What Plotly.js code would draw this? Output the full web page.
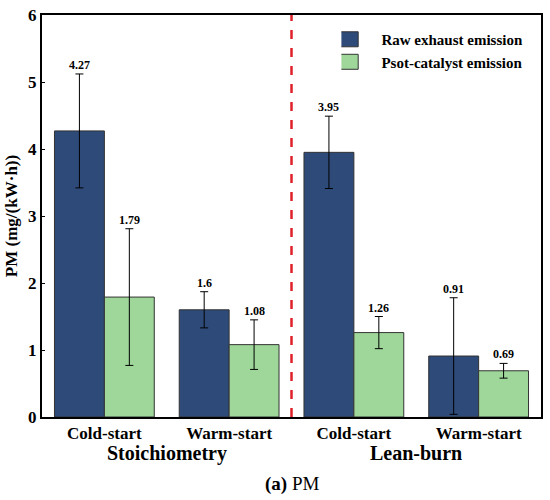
<!DOCTYPE html>
<html>
<head>
<meta charset="utf-8">
<script src="https://cdn.plot.ly/plotly-3.0.1.min.js"></script>
<style>
html, body { margin: 0; padding: 0; background: #fff; }
#chart text, #chart tspan { font-family: "Liberation Serif", "Times New Roman", serif !important; }
#chart .legendpoints path { transform: scale(2.8, 1.25); vector-effect: non-scaling-stroke; }
</style>
</head>
<body>
<div id="chart" style="width:550px;height:500px"></div>
<script>
var categories = ["Cold-start", "Warm-start", "Cold-start ", "Warm-start "];
var tickLabels = ["Cold-start", "Warm-start", "Cold-start", "Warm-start"];
var groups = ["Stoichiometry", "Lean-burn"];
var seriesNames = ["Raw exhaust emission", "Psot-catalyst emission"];
var rawValues = [4.27, 1.6, 3.95, 0.91];
var rawErrors = [0.85, 0.27, 0.54, 0.87];
var catValues = [1.79, 1.08, 1.26, 0.69];
var catErrors = [1.02, 0.37, 0.24, 0.11];
var caption = "(a) PM";

var FONT = "Liberation Serif";
var xIdx = categories.map(function(_, i){ return i; });

function barTrace(name, vals, errs, color) {
  return {
    type: "bar", name: name, x: xIdx, y: vals,
    marker: {color: color, line: {color: "#333333", width: 1}},
    error_y: {type: "data", array: errs, visible: true, color: "#000", thickness: 1, width: 4}
  };
}
var traces = [
  barTrace(seriesNames[0], rawValues, rawErrors, "#2d4a78"),
  barTrace(seriesNames[1], catValues, catErrors, "#9fd79b")
];

var annotations = [];
function addLabels(vals, errs, shift) {
  vals.forEach(function(v, i){
    annotations.push({x: i + shift, y: v + errs[i], xref: "x", yref: "y", text: "<b>" + v + "</b>",
      showarrow: false, yanchor: "bottom", yshift: 0,
      font: {family: FONT, size: 12, color: "#000"}});
  });
}
addLabels(rawValues, rawErrors, -0.2);
addLabels(catValues, catErrors, 0.2);
groups.forEach(function(g, gi){
  annotations.push({x: gi * 2 + 0.5, y: -0.058, xref: "x", yref: "paper", text: "<b>" + g + "</b>", showarrow: false,
    yanchor: "top", font: {family: FONT, size: 20, color: "#000"}});
});
annotations.push({x: 0.5, y: 0, xref: "paper", yref: "paper", yanchor: "bottom", yshift: -80,
  text: caption.replace("(a)", "<b>(a)</b>"), showarrow: false, font: {family: FONT, size: 19, color: "#000"}});

var layout = {
  width: 550, height: 500,
  font: {family: FONT, color: "#000"},
  margin: {l: 42, r: 9, t: 15, b: 83},
  paper_bgcolor: "#fff", plot_bgcolor: "#fff",
  barmode: "group", bargap: 0.2, bargroupgap: 0,
  showlegend: true,
  legend: {x: 0.6, y: 0.98, xanchor: "left", yanchor: "top", bgcolor: "rgba(0,0,0,0)",
    font: {family: FONT, size: 15, color: "#000", weight: "bold"}, tracegroupgap: 2},
  xaxis: {range: [-0.5, 3.5], tickvals: xIdx, ticktext: tickLabels.map(function(t){return "<b>"+t+"</b>";}), showgrid: false, zeroline: false,
    showline: true, linecolor: "#000", linewidth: 2, mirror: true, ticks: "",
    tickfont: {family: FONT, size: 17, color: "#000"}},
  yaxis: {range: [0, 6], dtick: 1, showgrid: false, zeroline: false,
    showline: true, linecolor: "#000", linewidth: 2, mirror: true,
    ticks: "inside", ticklen: 3, tickcolor: "#000",
    tickfont: {family: FONT, size: 17, color: "#000", weight: "bold"},
    title: {text: "<b>PM (mg/(kW·h))</b>", standoff: 6, font: {family: FONT, size: 17, color: "#000"}}},
  shapes: [{type: "line", xref: "x", yref: "paper", x0: 1.5, x1: 1.5, y0: 0, y1: 1,
    line: {color: "#e0202a", width: 2.5, dash: "dash"}}],
  annotations: annotations
};

Plotly.newPlot("chart", traces, layout, {displayModeBar: false, staticPlot: true});
</script>
</body>
</html>
